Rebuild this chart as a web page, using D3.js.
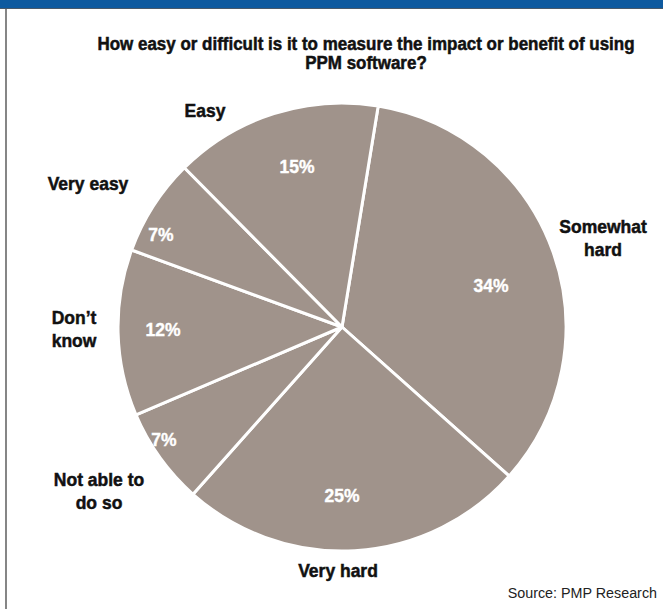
<!DOCTYPE html>
<html>
<head>
<meta charset="utf-8">
<script src="https://cdn.jsdelivr.net/npm/d3@7"></script>
<style>
  body { margin: 0; background: #fff; }
  text { font-family: "Liberation Sans", Arial, sans-serif; font-weight: bold; }
</style>
</head>
<body>
<div id="chart"></div>
<script>
// survey answers, clockwise from the top
var categories = ["Somewhat hard", "Very hard", "Not able to do so", "Don't know", "Very easy", "Easy"];
var shares = [34, 25, 7, 12, 7, 15];
var pctLabels = ["34%", "25%", "7%", "12%", "7%", "15%"];

// outside label lines and where they sit
var nameLines = [["Somewhat", "hard"], ["Very hard"], ["Not able to", "do so"], ["Don\u2019t", "know"], ["Very easy"], ["Easy"]];
var namePos = [[603, 233], [338, 577], [99, 486], [74, 324], [88, 190], [205, 117]];
var pctPos = [[491, 292], [342, 502], [164, 446], [163, 336], [161, 241], [297, 173]];

var width = 663, height = 609;
var cx = 342, cy = 327, radius = 224;
var squeeze = 0.94;   // the original face is a narrow grotesque

var svg = d3.select("#chart").append("svg")
    .attr("width", width)
    .attr("height", height);

function place(x, y, sx) {
  return "translate(" + x + "," + y + ") scale(" + sx + ",1)";
}

// top banner and left rule
svg.append("rect").attr("x", 0).attr("y", 0).attr("width", width).attr("height", 8).style("fill", "#0e5a9f");
svg.append("rect").attr("x", 0).attr("y", 8).attr("width", width).attr("height", 1).style("fill", "#4a5a6a");
svg.append("line")
    .attr("x1", 6).attr("x2", 6).attr("y1", 9).attr("y2", height)
    .style("stroke", "#444").style("stroke-width", 1.3);

// title
var titleLines = ["How easy or difficult is it to measure the impact or benefit of using", "PPM software?"];
svg.selectAll(".title")
    .data(titleLines)
  .enter().append("text")
    .attr("class", "title")
    .attr("transform", function(d, i) { return place(366, 50 + i * 19, 0.97); })
    .attr("text-anchor", "middle")
    .style("font-size", "17.5px")
    .style("fill", "#111")
    .style("stroke", "#111")
    .style("stroke-width", 0.5)
    .text(function(d) { return d; });

var data = categories.map(function(c, i) { return {name: c, value: shares[i], i: i}; });

var pie = d3.pie()
    .sort(null)
    .value(function(d) { return d.value; })
    .startAngle(0.1623)
    .endAngle(0.1623 + 2 * Math.PI);

var arc = d3.arc().innerRadius(0).outerRadius(radius);

var g = svg.append("g").attr("transform", "translate(" + cx + "," + cy + ")");

g.selectAll("path")
    .data(pie(data))
  .enter().append("path")
    .attr("d", arc)
    .style("fill", "#a0938b")
    .style("stroke", "#fff")
    .style("stroke-width", 3)
    .style("stroke-linejoin", "round");

// percentages inside slices
svg.selectAll(".pct")
    .data(data)
  .enter().append("text")
    .attr("class", "pct")
    .attr("transform", function(d) { return place(pctPos[d.i][0], pctPos[d.i][1], squeeze); })
    .attr("text-anchor", "middle")
    .style("fill", "#fff")
    .style("stroke", "#fff")
    .style("stroke-width", 0.4)
    .style("font-size", "18.6px")
    .text(function(d) { return pctLabels[d.i]; });

// category names outside
var names = svg.selectAll(".name")
    .data(data)
  .enter().append("text")
    .attr("class", "name")
    .attr("transform", function(d) { return place(namePos[d.i][0], namePos[d.i][1], squeeze); })
    .attr("text-anchor", "middle")
    .style("fill", "#111")
    .style("stroke", "#111")
    .style("stroke-width", 0.5)
    .style("font-size", "18.6px");

names.selectAll("tspan")
    .data(function(d) { return nameLines[d.i]; })
  .enter().append("tspan")
    .attr("x", 0)
    .attr("dy", function(d, j) { return j === 0 ? 0 : 23.5; })
    .text(function(d) { return d; });

// source note
svg.append("text")
    .attr("transform", place(657, 598, 0.955))
    .attr("text-anchor", "end")
    .style("font-weight", "normal")
    .style("font-size", "15px")
    .style("fill", "#222")
    .text("Source: PMP Research");
</script>
</body>
</html>
